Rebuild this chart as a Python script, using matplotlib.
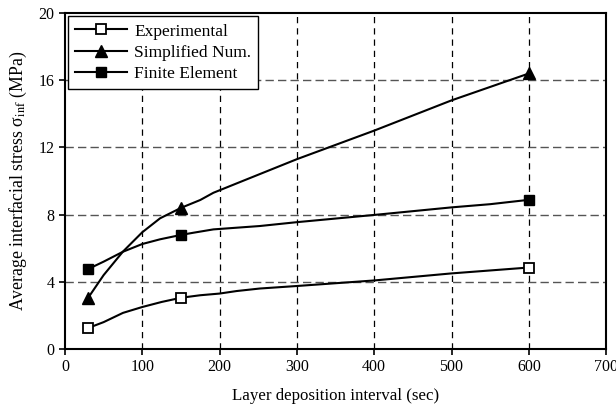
import numpy as np
import matplotlib.pyplot as plt

plt.rcParams['font.family'] = ['Liberation Serif', 'DejaVu Serif']
plt.rcParams['mathtext.fontset'] = 'stix'

# marker points (measured values)
x_pts = [30, 150, 600]
exp_pts = [1.25, 3.05, 4.85]
sim_pts = [3.05, 8.4, 16.4]
fe_pts = [4.76, 6.79, 8.88]

# smoothed curves
x_exp_line = [30, 50, 75, 100, 125, 150, 175, 200, 222, 252, 300, 400, 500, 600]
y_exp_line = [1.25, 1.6, 2.15, 2.5, 2.8, 3.05, 3.2, 3.3, 3.45, 3.6, 3.75, 4.08, 4.5, 4.85]

x_sim_line = [30, 50, 75, 100, 123, 150, 175, 192, 233, 300, 400, 500, 600]
y_sim_line = [3.05, 4.4, 5.8, 6.95, 7.78, 8.4, 8.87, 9.3, 10.06, 11.3, 13.0, 14.8, 16.4]

x_fe_line = [30, 50, 75, 100, 123, 150, 166, 192, 222, 252, 300, 400, 500, 550, 600]
y_fe_line = [4.76, 5.2, 5.79, 6.25, 6.53, 6.79, 6.92, 7.12, 7.22, 7.32, 7.55, 7.98, 8.43, 8.62, 8.88]

xticks = [0, 100, 200, 300, 400, 500, 600, 700]
yticks = [0, 4, 8, 12, 16, 20]

fig = plt.figure(figsize=(6.16, 4.09), dpi=100)
ax = fig.add_axes([0.1055, 0.1467, 0.8785, 0.8215])

# grid
for xv in xticks[1:-1]:
    ax.axvline(xv, color='black', lw=0.9, ls=(0, (5, 4)), zorder=1)
for yv in yticks[1:-1]:
    ax.axhline(yv, color='#555555', lw=1.0, ls=(0, (6, 3)), zorder=1)

# curves
ax.plot(x_exp_line, y_exp_line, color='black', lw=1.5, zorder=2)
ax.plot(x_sim_line, y_sim_line, color='black', lw=1.5, zorder=2)
ax.plot(x_fe_line, y_fe_line, color='black', lw=1.5, zorder=2)

# markers
ax.plot(x_pts, exp_pts, ls='none', marker='s', ms=6.5, mfc='white', mec='black', mew=1.3, zorder=3)
ax.plot(x_pts, sim_pts, ls='none', marker='^', ms=9, mfc='black', mec='black', zorder=3)
ax.plot(x_pts, fe_pts, ls='none', marker='s', ms=7, mfc='black', mec='black', zorder=3)

# legend handles
h1, = ax.plot([], [], color='black', lw=1.5, marker='s', ms=6.5, mfc='white', mec='black', mew=1.3)
h2, = ax.plot([], [], color='black', lw=1.5, marker='^', ms=9, mfc='black', mec='black')
h3, = ax.plot([], [], color='black', lw=1.5, marker='s', ms=7, mfc='black', mec='black')
leg = ax.legend([h1, h2, h3], ['Experimental', 'Simplified Num.', 'Finite Element'],
                loc='upper left', bbox_to_anchor=(0.0, 1.0), fontsize=12.5,
                frameon=True, fancybox=False, framealpha=1, edgecolor='black',
                handlelength=3.0, handletextpad=0.4, borderpad=0.4, labelspacing=0.3,
                borderaxespad=0.2)
leg.get_frame().set_linewidth(1.0)

ax.set_xlim(0, 700)
ax.set_ylim(0, 20)
ax.set_xticks(xticks)
ax.set_yticks(yticks)
ax.tick_params(direction='out', length=4, width=1.2, labelsize=11.5, colors='black')
for s in ax.spines.values():
    s.set_linewidth(1.5)

ax.set_xlabel('Layer deposition interval (sec)', fontsize=12.2, labelpad=9)
ax.set_ylabel(r'Average interfacial stress σ$_{\rm inf}$ (MPa)', fontsize=12.8, labelpad=7)

fig.savefig('out.png', dpi=100)
